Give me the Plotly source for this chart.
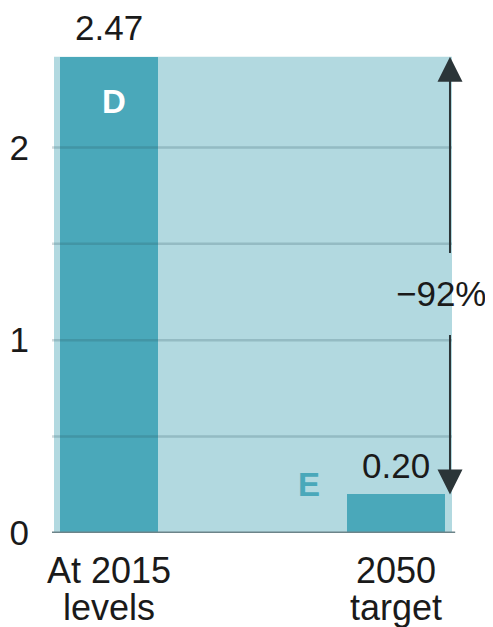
import plotly.graph_objects as go

# ---- data ----
categories = ["At 2015<br>levels", "2050<br>target"]
values = [2.47, 0.20]
bar_letters = ["D", "E"]
y_ticks = [0, 1, 2]
grid_vals = [0.5, 1, 1.5, 2]

FONT = "Liberation Sans, Arial, Helvetica, sans-serif"
DARK = "#4aa8ba"
LIGHT = "#b2d9e0"
TXT = "#1a1a1a"

fig = go.Figure()
fig.add_trace(go.Bar(
    x=categories, y=values, width=0.342,
    marker=dict(color=DARK, line=dict(width=0)),
    hoverinfo="skip", showlegend=False,
))

# light background band up to the 2015 level
fig.add_shape(type="rect", xref="paper", x0=0, x1=1, yref="y", y0=0, y1=values[0],
              fillcolor=LIGHT, line=dict(width=0), layer="below")

# gridlines drawn over the bars
for g in grid_vals:
    fig.add_shape(type="line", xref="paper", x0=-0.005, x1=1, yref="y", y0=g, y1=g,
                  line=dict(color="rgba(40,80,90,0.22)", width=2.5), layer="above")
# baseline
fig.add_shape(type="line", xref="paper", x0=-0.005, x1=1.008, yref="y", y0=0, y1=0,
              line=dict(color="#6c8489", width=3), layer="above")

ann = []
# value labels
for c, v in zip(categories, values):
    ann.append(dict(x=c, y=v, xref="x", yref="y", text=f"{v:.2f}", showarrow=False,
                    yanchor="middle", yshift=29, font=dict(family=FONT, size=35, color=TXT)))
# x labels (two lines each, tighter spacing)
for c in categories:
    lines = c.split("<br>")
    for i, ln in enumerate(lines):
        ann.append(dict(x=c, y=0, xref="x", yref="y", text=ln, showarrow=False,
                        yanchor="middle", yshift=-37.5 - 37 * i,
                        font=dict(family=FONT, size=36, color=TXT)))
# letters
ann.append(dict(x=categories[0], y=values[0], xref="x", yref="y", text=bar_letters[0],
                showarrow=False, yanchor="middle", xshift=5, yshift=-44.7,
                font=dict(family=FONT, size=33, color="white", weight="bold")))
ann.append(dict(x=categories[1], y=values[1], xref="x", yref="y", text=bar_letters[1],
                showarrow=False, yanchor="middle", xshift=-86.5, yshift=10,
                font=dict(family=FONT, size=33, color=DARK, weight="bold")))

# change arrow: two arrows leaving a gap around the percentage label
pct = round((values[1] - values[0]) / values[0] * 100)
pct_text = f"\u2212{abs(pct)}%"
arrow_x = 1.19
text_y = 1.24
for tip in (values[0], values[1]):
    ann.append(dict(x=arrow_x, y=tip, xref="x", yref="y",
                    ax=arrow_x, ay=text_y, axref="x", ayref="y",
                    text=" ", showarrow=True, arrowhead=2, arrowsize=2.5,
                    arrowwidth=2, arrowcolor="#2b3538", standoff=0, startstandoff=0,
                    borderpad=21, bordercolor="rgba(0,0,0,0)",
                    font=dict(family=FONT, size=35, color="rgba(0,0,0,0)")))
ann.append(dict(x=arrow_x, y=text_y, xref="x", yref="y", text=pct_text, showarrow=False,
                xanchor="center", yanchor="middle", xshift=-8,
                font=dict(family=FONT, size=35, color=TXT)))

# page body has an 8px margin, so the figure is 8px smaller and margins shifted
fig.update_layout(
    width=485, height=619, autosize=False,
    margin=dict(l=46, r=41, t=42.5, b=94, pad=0),
    paper_bgcolor="white", plot_bgcolor="white",
    annotations=ann, bargap=0,
    xaxis=dict(type="category", range=[-0.192, 1.197], showticklabels=False,
               showgrid=False, zeroline=False, showline=False, ticks="",
               automargin=False),
    yaxis=dict(range=[0, 2.5], tickvals=y_ticks, ticktext=[str(t) for t in y_ticks],
               showgrid=False, zeroline=False, showline=False,
               ticks="outside", ticklen=17, tickcolor="rgba(0,0,0,0)",
               automargin=False,
               tickfont=dict(family=FONT, size=35, color=TXT)),
    font=dict(family=FONT),
)

fig.write_html("out.html")
